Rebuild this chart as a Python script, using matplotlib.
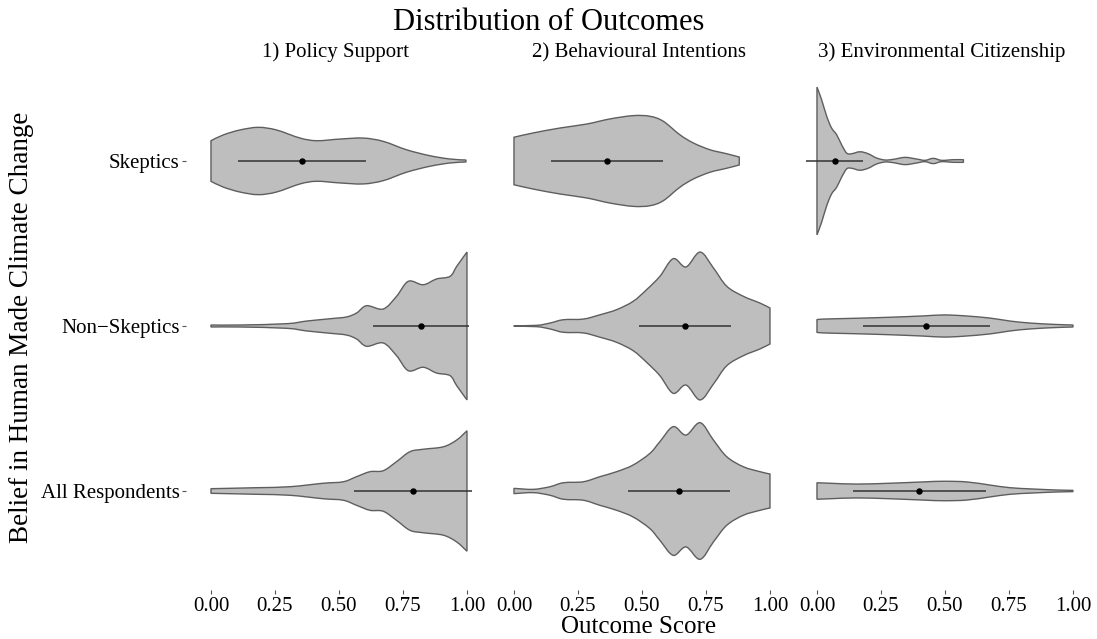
import numpy as np
import matplotlib
matplotlib.use("Agg")
import matplotlib.pyplot as plt
from matplotlib.path import Path
from matplotlib.patches import PathPatch

plt.rcParams['font.family'] = ['Liberation Serif', 'DejaVu Serif']

# Facets and groups (top to bottom)
outcomes = ['1) Policy Support', '2) Behavioural Intentions', '3) Environmental Citizenship']
groups = ['Skeptics', 'Non\u2212Skeptics', 'All Respondents']
x_ticks = [0.0, 0.25, 0.5, 0.75, 1.0]
x_tick_labels = ['0.00', '0.25', '0.50', '0.75', '1.00']

# Violin outlines: score grid and half-width (in category units)
policy_skeptics_x = [0.0, 0.048, 0.113, 0.185, 0.256, 0.348, 0.413, 0.504, 0.595, 0.673, 0.764, 0.855, 0.934, 0.996]
policy_skeptics_w = [0.123, 0.158, 0.188, 0.204, 0.188, 0.139, 0.123, 0.133, 0.139, 0.119, 0.068, 0.032, 0.012, 0.006]
policy_nonskeptics_x = [0.0, 0.113, 0.296, 0.374, 0.465, 0.530, 0.569, 0.608, 0.673, 0.725, 0.771, 0.829, 0.881, 0.934, 0.960, 1.0]
policy_nonskeptics_w = [0.006, 0.006, 0.014, 0.030, 0.044, 0.055, 0.079, 0.123, 0.103, 0.180, 0.271, 0.250, 0.285, 0.301, 0.362, 0.448]
policy_all_x = [0.0, 0.178, 0.309, 0.439, 0.517, 0.569, 0.621, 0.673, 0.725, 0.777, 0.829, 0.908, 0.960, 1.0]
policy_all_w = [0.014, 0.020, 0.026, 0.047, 0.056, 0.087, 0.117, 0.123, 0.178, 0.238, 0.253, 0.268, 0.309, 0.365]

behaviour_skeptics_x = [0.0, 0.075, 0.180, 0.284, 0.375, 0.466, 0.531, 0.583, 0.648, 0.701, 0.766, 0.831, 0.880]
behaviour_skeptics_w = [0.144, 0.170, 0.200, 0.224, 0.255, 0.275, 0.271, 0.241, 0.159, 0.109, 0.068, 0.044, 0.024]
behaviour_nonskeptics_x = [0.0, 0.089, 0.141, 0.193, 0.271, 0.336, 0.401, 0.466, 0.518, 0.570, 0.622, 0.672, 0.727, 0.779, 0.831, 0.896, 0.961, 1.0]
behaviour_nonskeptics_w = [0.002, 0.004, 0.018, 0.038, 0.042, 0.068, 0.099, 0.150, 0.220, 0.301, 0.408, 0.358, 0.448, 0.352, 0.241, 0.180, 0.139, 0.109]
behaviour_all_x = [0.0, 0.076, 0.141, 0.193, 0.271, 0.336, 0.401, 0.466, 0.531, 0.570, 0.622, 0.672, 0.727, 0.779, 0.831, 0.896, 0.961, 1.0]
behaviour_all_w = [0.016, 0.010, 0.026, 0.050, 0.056, 0.087, 0.117, 0.158, 0.228, 0.299, 0.390, 0.339, 0.414, 0.309, 0.208, 0.147, 0.117, 0.103]

citizenship_skeptics_x = [0.0, 0.018, 0.038, 0.057, 0.077, 0.096, 0.116, 0.135, 0.168, 0.200, 0.233, 0.266, 0.298, 0.344, 0.389, 0.422, 0.454, 0.487, 0.533, 0.572]
citizenship_skeptics_w = [0.448, 0.372, 0.271, 0.200, 0.159, 0.099, 0.048, 0.044, 0.056, 0.044, 0.018, 0.006, 0.010, 0.022, 0.012, 0.004, 0.016, 0.004, 0.008, 0.008]
citizenship_nonskeptics_x = [0.0, 0.025, 0.155, 0.285, 0.415, 0.493, 0.572, 0.676, 0.754, 0.832, 0.923, 1.0]
citizenship_nonskeptics_w = [0.038, 0.042, 0.047, 0.053, 0.061, 0.067, 0.062, 0.048, 0.030, 0.018, 0.010, 0.006]
citizenship_all_x = [0.0, 0.051, 0.155, 0.285, 0.415, 0.493, 0.585, 0.676, 0.754, 0.845, 0.936, 1.0]
citizenship_all_w = [0.050, 0.047, 0.042, 0.047, 0.055, 0.059, 0.055, 0.036, 0.020, 0.012, 0.006, 0.004]

# Mean and mean +/- SD per facet, ordered as groups
policy_mean = [0.357, 0.820, 0.788]
policy_low = [0.107, 0.632, 0.559]
policy_high = [0.605, 1.009, 1.018]
behaviour_mean = [0.362, 0.668, 0.645]
behaviour_low = [0.143, 0.490, 0.447]
behaviour_high = [0.583, 0.846, 0.844]
citizenship_mean = [0.070, 0.426, 0.400]
citizenship_low = [-0.043, 0.178, 0.142]
citizenship_high = [0.181, 0.676, 0.660]

violins = [
    [(policy_skeptics_x, policy_skeptics_w), (policy_nonskeptics_x, policy_nonskeptics_w), (policy_all_x, policy_all_w)],
    [(behaviour_skeptics_x, behaviour_skeptics_w), (behaviour_nonskeptics_x, behaviour_nonskeptics_w), (behaviour_all_x, behaviour_all_w)],
    [(citizenship_skeptics_x, citizenship_skeptics_w), (citizenship_nonskeptics_x, citizenship_nonskeptics_w), (citizenship_all_x, citizenship_all_w)],
]
summaries = [
    (policy_mean, policy_low, policy_high),
    (behaviour_mean, behaviour_low, behaviour_high),
    (citizenship_mean, citizenship_low, citizenship_high),
]


def smooth_segments(pts):
    """Catmull-Rom through pts, returned as cubic bezier vertices (without the first point)."""
    pts = np.asarray(pts, dtype=float)
    padded = np.vstack([pts[0], pts, pts[-1]])
    verts = []
    for i in range(1, len(padded) - 2):
        p0, p1, p2, p3 = padded[i - 1], padded[i], padded[i + 1], padded[i + 2]
        verts += [p1 + (p2 - p0) / 6.0, p2 - (p3 - p1) / 6.0, p2]
    return verts


def violin_path(xs, ws, center):
    xs = np.asarray(xs)
    ws = np.asarray(ws)
    top = np.column_stack([xs, center - ws])
    bottom = np.column_stack([xs[::-1], center + ws[::-1]])
    verts = [top[0]]
    codes = [Path.MOVETO]
    seg = smooth_segments(top)
    verts += seg
    codes += [Path.CURVE4] * len(seg)
    verts.append(bottom[0])
    codes.append(Path.LINETO)
    seg = smooth_segments(bottom)
    verts += seg
    codes += [Path.CURVE4] * len(seg)
    verts.append(top[0])
    codes.append(Path.CLOSEPOLY)
    return Path(verts, codes)


W, H = 1097, 639
fig = plt.figure(figsize=(W / 100, H / 100), dpi=100)

xlim = (-0.096, 1.071)
panel_w = 298.75
panel_left = [186.4, 489.4, 792.4]
panel_bottom, panel_h = 49, 528
y_pos = np.arange(1, len(groups) + 1)

for k, outcome in enumerate(outcomes):
    ax = fig.add_axes([panel_left[k] / W, panel_bottom / H, panel_w / W, panel_h / H])
    for j, (xs, ws) in enumerate(violins[k]):
        patch = PathPatch(violin_path(xs, ws, y_pos[j]), facecolor='#bebebe',
                          edgecolor='#5e5e5e', linewidth=1.0, zorder=2)
        ax.add_patch(patch)
    mean, low, high = summaries[k]
    ax.hlines(y_pos, low, high, color='#333333', linewidth=1.1, zorder=3)
    ax.plot(mean, y_pos, 'o', color='black', markersize=3.6, zorder=4)

    ax.set_xlim(*xlim)
    ax.set_ylim(3.6, 0.4)
    ax.set_xticks(x_ticks)
    ax.set_xticklabels(x_tick_labels, fontsize=15)
    ax.set_yticks(y_pos)
    if k == 0:
        ax.set_yticklabels(groups, fontsize=15)
    else:
        ax.tick_params(axis='y', left=False, labelleft=False)
    ax.tick_params(length=3, width=0.8, color='#555555', pad=2, labelcolor='black')
    for s in ax.spines.values():
        s.set_visible(False)
    ax.set_title(outcome, fontsize=15, pad=2)

fig.text(549 / W, 1 - 23 / H, 'Distribution of Outcomes', ha='center', va='center', fontsize=22)
fig.text(639 / W, 1 - 627 / H, 'Outcome Score', ha='center', va='center', fontsize=18)
fig.text(22 / W, 1 - 327 / H, 'Belief in Human Made Climate Change', ha='center', va='center',
         rotation=90, fontsize=19.5)

fig.savefig('out.png', dpi=100, facecolor='white')
